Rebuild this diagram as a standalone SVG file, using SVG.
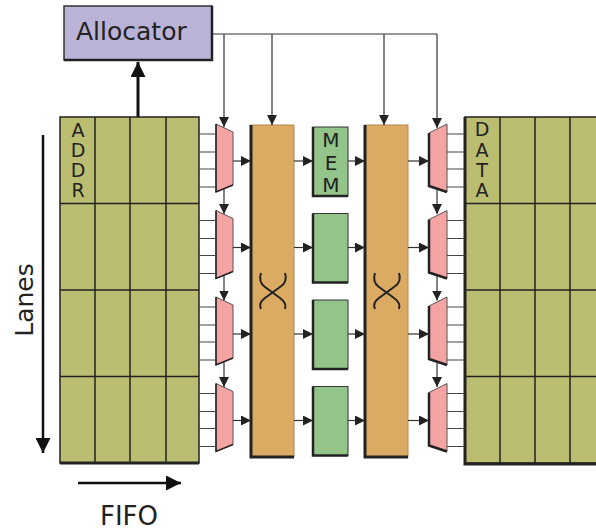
<svg xmlns="http://www.w3.org/2000/svg" width="596" height="531" viewBox="0 0 596 531">
<style>
text{font-family:"DejaVu Sans","Liberation Sans",sans-serif;fill:#222}
.grid{fill:#bbbd71;stroke:#222;stroke-width:1.5}
.gl{stroke:#222;stroke-width:1.5}
.mux{fill:#f5a3a3;stroke:#555;stroke-width:1}
.xb{fill:#dcab63;stroke:#b08850;stroke-width:1}
.mem{fill:#93c48a;stroke:#333;stroke-width:1}
.edge{stroke:#222;fill:none}
.c{stroke:#333;stroke-width:1.2;fill:none}
.in{stroke:#444;stroke-width:1.2;fill:none}
</style>
<defs>
<marker id="ah" viewBox="0 0 10 10" refX="10" refY="5" markerWidth="10" markerHeight="10" markerUnits="userSpaceOnUse" orient="auto">
<path d="M0,0 L10,5 L0,10 z" fill="#222"/>
</marker>
<marker id="big" viewBox="0 0 10 10" refX="10" refY="5" markerWidth="17" markerHeight="15" markerUnits="userSpaceOnUse" orient="auto">
<path d="M0,0 L10,5 L0,10 z" fill="#111"/>
</marker>
<g id="muxL">
<polygon class="mux" points="216,124 233,132 233,185 216,192"/>
<path class="edge" stroke-width="1.5" d="M216,124 L216,192 L233,185"/>
</g>
<g id="muxR">
<polygon class="mux" points="429,133 447,124 447,192 429,186"/>
<path class="edge" stroke-width="2.5" d="M429,133 L429,186 L447,192"/>
</g>
</defs>

<g id="allocator">
<rect x="64" y="6" width="148" height="54" fill="#bab3d7" stroke="#333" stroke-width="1.5"/>
<path class="edge" stroke-width="2.5" d="M64,60 L212,60 L212,6"/>
<text x="76" y="40" font-size="25">Allocator</text>
</g>

<g id="addr">
<rect class="grid" x="60" y="117" width="139" height="346"/>
<path class="gl" d="M95,117V463M130,117V463M166,117V463M60,203.5H199M60,290H199M60,376.5H199"/>
<path class="edge" stroke-width="3" d="M60,463H199"/>
<g font-size="19" text-anchor="middle">
<text x="78" y="137">A</text><text x="78" y="157">D</text><text x="78" y="177">D</text><text x="78" y="197">R</text>
</g>
</g>

<g id="data">
<rect class="grid" x="465" y="117" width="140" height="346"/>
<path class="gl" d="M500,117V463M535,117V463M570,117V463M465,203.5H605M465,290H605M465,376.5H605"/>
<path class="edge" stroke-width="3" d="M465,117V464H605"/>
<g font-size="19" text-anchor="middle">
<text x="482" y="136">D</text><text x="482" y="157">A</text><text x="482" y="177">T</text><text x="482" y="197">A</text>
</g>
</g>

<g id="mux-left-1"><use href="#muxL"/></g>
<g id="mux-left-2"><use href="#muxL" transform="translate(0,86.5)"/></g>
<g id="mux-left-3"><use href="#muxL" transform="translate(0,173)"/></g>
<g id="mux-left-4"><use href="#muxL" transform="translate(0,259.5)"/></g>
<g id="mux-right-1"><use href="#muxR"/></g>
<g id="mux-right-2"><use href="#muxR" transform="translate(0,86.5)"/></g>
<g id="mux-right-3"><use href="#muxR" transform="translate(0,173)"/></g>
<g id="mux-right-4"><use href="#muxR" transform="translate(0,259.5)"/></g>

<g id="crossbar-1">
<rect class="xb" x="251" y="125" width="43" height="332"/>
<path class="edge" stroke-width="3" d="M251,125V457H294"/>
<path class="edge" stroke-width="2" d="M261,273 Q258,282 265,287 L280,298 Q287,303 285,309 M285,273 Q288,282 280,287 L265,298 Q258,303 261,309"/>
</g>
<g id="crossbar-2">
<rect class="xb" x="365" y="125" width="43" height="332"/>
<path class="edge" stroke-width="3" d="M365,125V457H408"/>
<path class="edge" stroke-width="2" d="M375,273 Q372,282 379,287 L394,298 Q401,303 399,309 M399,273 Q402,282 394,287 L379,298 Q372,303 375,309"/>
</g>

<g id="mem-1">
<rect class="mem" x="313" y="127" width="35" height="69"/>
<path class="edge" stroke-width="2.5" d="M313,127V196H348"/>
<g font-size="20" text-anchor="middle">
<text x="331" y="147">M</text><text x="331" y="170">E</text><text x="331" y="192">M</text>
</g>
</g>
<g id="mem-2">
<rect class="mem" x="313" y="213.5" width="35" height="69"/>
<path class="edge" stroke-width="2.5" d="M313,213.5V282.5H348"/>
</g>
<g id="mem-3">
<rect class="mem" x="313" y="300" width="35" height="69"/>
<path class="edge" stroke-width="2.5" d="M313,300V369H348"/>
</g>
<g id="mem-4">
<rect class="mem" x="313" y="386.5" width="35" height="69"/>
<path class="edge" stroke-width="2.5" d="M313,386.5V455.5H348"/>
</g>

<g id="lanes">
<text transform="translate(33,300) rotate(-90)" font-size="25" text-anchor="middle">Lanes</text>
</g>
<g id="fifo">
<text x="129" y="525" font-size="26" text-anchor="middle">FIFO</text>
</g>

<g id="connectors">
<path class="c" d="M212,34H437"/>
<path class="c" marker-end="url(#ah)" d="M224,34V127"/>
<path class="c" marker-end="url(#ah)" d="M272,34V125"/>
<path class="c" marker-end="url(#ah)" d="M384,34V125"/>
<path class="c" marker-end="url(#ah)" d="M437,34V128"/>
<path stroke="#111" stroke-width="3" fill="none" marker-end="url(#big)" d="M138,117V62"/>
<path stroke="#111" stroke-width="2.5" fill="none" marker-end="url(#big)" d="M43,135V453"/>
<path stroke="#111" stroke-width="2.5" fill="none" marker-end="url(#big)" d="M78,483H181"/>
<g id="row-links">
<g id="row1">
<path class="in" d="M199,134H216M199,152H216M199,169H216M199,187H216M447,134H465M447,152H465M447,169H465M447,187H465"/>
<path class="c" marker-end="url(#ah)" d="M233,161H251"/>
<path class="c" marker-end="url(#ah)" d="M294,161H313"/>
<path class="c" marker-end="url(#ah)" d="M348,161H365"/>
<path class="c" marker-end="url(#ah)" d="M408,161H429"/>
<path class="c" marker-end="url(#ah)" d="M224,189V214"/>
<path class="c" marker-end="url(#ah)" d="M437,189V214"/>
</g>
<g transform="translate(0,86.5)">
<path class="in" d="M199,134H216M199,152H216M199,169H216M199,187H216M447,134H465M447,152H465M447,169H465M447,187H465"/>
<path class="c" marker-end="url(#ah)" d="M233,161H251"/>
<path class="c" marker-end="url(#ah)" d="M294,161H313"/>
<path class="c" marker-end="url(#ah)" d="M348,161H365"/>
<path class="c" marker-end="url(#ah)" d="M408,161H429"/>
<path class="c" marker-end="url(#ah)" d="M224,189V214"/>
<path class="c" marker-end="url(#ah)" d="M437,189V214"/>
</g>
<g transform="translate(0,173)">
<path class="in" d="M199,134H216M199,152H216M199,169H216M199,187H216M447,134H465M447,152H465M447,169H465M447,187H465"/>
<path class="c" marker-end="url(#ah)" d="M233,161H251"/>
<path class="c" marker-end="url(#ah)" d="M294,161H313"/>
<path class="c" marker-end="url(#ah)" d="M348,161H365"/>
<path class="c" marker-end="url(#ah)" d="M408,161H429"/>
<path class="c" marker-end="url(#ah)" d="M224,189V214"/>
<path class="c" marker-end="url(#ah)" d="M437,189V214"/>
</g>
<g transform="translate(0,259.5)">
<path class="in" d="M199,134H216M199,152H216M199,169H216M199,187H216M447,134H465M447,152H465M447,169H465M447,187H465"/>
<path class="c" marker-end="url(#ah)" d="M233,161H251"/>
<path class="c" marker-end="url(#ah)" d="M294,161H313"/>
<path class="c" marker-end="url(#ah)" d="M348,161H365"/>
<path class="c" marker-end="url(#ah)" d="M408,161H429"/>
</g>
</g>
</g>
</svg>
